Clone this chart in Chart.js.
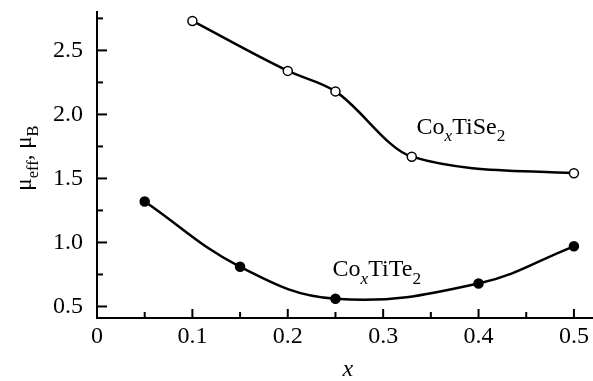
<!DOCTYPE html>
<html>
<head>
<meta charset="utf-8">
<script src="https://cdn.jsdelivr.net/npm/chart.js@4/dist/chart.umd.min.js"></script>
<style>
  html, body { margin: 0; padding: 0; background: #fff; }
  #wrap { width: 593px; height: 381px; }
</style>
</head>
<body>
<div id="wrap"><canvas id="chart"></canvas></div>
<script>
// data
const seX = [0.1, 0.2, 0.25, 0.33, 0.5];
const seY = [2.73, 2.34, 2.18, 1.67, 1.54];
const teX = [0.05, 0.15, 0.25, 0.4, 0.5];
const teY = [1.32, 0.81, 0.56, 0.68, 0.97];

const xTicks = [0, 0.1, 0.2, 0.3, 0.4, 0.5];
const xMinor = [0.05, 0.15, 0.25, 0.35, 0.45];
const yTicks = [0.5, 1.0, 1.5, 2.0, 2.5];
const yMinor = [0.75, 1.25, 1.75, 2.25, 2.75];

const FONT = "'Liberation Serif', 'Times New Roman', serif";

// draw a row of text pieces, some italic and some lowered as subscripts
function richText(ctx, parts, x, y, size) {
  let cx = x;
  parts.forEach(p => {
    const s = p.sub ? size * 0.72 : size;
    ctx.font = (p.italic ? "italic " : "") + s + "px " + FONT;
    ctx.fillText(p.t, cx, y + (p.sub ? size * 0.3 : 0));
    cx += ctx.measureText(p.t).width;
  });
  return cx - x;
}

const extras = {
  id: "extras",
  afterDraw(chart) {
    const ctx = chart.ctx;
    const xs = chart.scales.x, ys = chart.scales.y;
    const a = chart.chartArea;
    ctx.save();
    ctx.strokeStyle = "#000";
    ctx.lineWidth = 2;
    // inward ticks
    const tick = (vals, len) => {
      vals.forEach(v => {
        const px = xs.getPixelForValue(v);
        ctx.beginPath(); ctx.moveTo(px, a.bottom); ctx.lineTo(px, a.bottom - len); ctx.stroke();
      });
    };
    const tickY = (vals, len) => {
      vals.forEach(v => {
        const py = ys.getPixelForValue(v);
        ctx.beginPath(); ctx.moveTo(a.left, py); ctx.lineTo(a.left + len, py); ctx.stroke();
      });
    };
    tick(xTicks.filter(v => v > 0), 9);
    tick(xMinor, 6);
    tickY(yTicks, 10);
    tickY(yMinor, 6);

    ctx.fillStyle = "#000";
    ctx.textBaseline = "alphabetic";
    ctx.textAlign = "left";
    // series labels
    richText(ctx, [{t: "Co"}, {t: "x", italic: true, sub: true}, {t: "TiSe"}, {t: "2", sub: true}],
      xs.getPixelForValue(0.335), ys.getPixelForValue(1.85), 24);
    richText(ctx, [{t: "Co"}, {t: "x", italic: true, sub: true}, {t: "TiTe"}, {t: "2", sub: true}],
      xs.getPixelForValue(0.247), ys.getPixelForValue(0.735), 24);

    // x axis title
    ctx.font = "italic 24px " + FONT;
    ctx.textAlign = "center";
    ctx.fillText("x", xs.getPixelForValue(0.263), 376);

    // y axis title, rotated
    ctx.translate(31, 158);
    ctx.rotate(-Math.PI / 2);
    ctx.textAlign = "left";
    const parts = [{t: "\u03bc"}, {t: "eff", sub: true}, {t: ", \u03bc"}, {t: "B", sub: true}];
    let w = 0;
    parts.forEach(p => {
      ctx.font = (p.sub ? 23 * 0.72 : 23) + "px " + FONT;
      w += ctx.measureText(p.t).width;
    });
    richText(ctx, parts, -w / 2, 0, 23);
    ctx.restore();
  }
};

const lineSet = (xv, yv, fill, mode) => ({
  data: xv.map((x, i) => ({x: x, y: yv[i]})),
  borderColor: "#000",
  borderWidth: 2.5,
  tension: 0.4,
  cubicInterpolationMode: mode,
  pointRadius: 4.5,
  pointBorderWidth: 1.5,
  pointBorderColor: "#000",
  pointBackgroundColor: fill,
  clip: false,
  fill: false
});

new Chart(document.getElementById("chart"), {
  type: "line",
  data: {
    datasets: [lineSet(seX, seY, "#fff", "monotone"), lineSet(teX, teY, "#000", "default")]
  },
  options: {
    responsive: true,
    maintainAspectRatio: false,
    animation: false,
    events: [],
    layout: { autoPadding: false, padding: { top: 12, right: 0, left: 0, bottom: 0 } },
    plugins: { legend: { display: false }, tooltip: { enabled: false } },
    scales: {
      x: {
        type: "linear",
        min: 0,
        max: 0.52,
        afterBuildTicks: s => { s.ticks = xTicks.map(v => ({value: v})); },
        afterFit: s => { s.height = 63; s.paddingLeft = 0; s.paddingRight = 0; },
        grid: { display: false, drawTicks: false },
        border: { display: true, color: "#000", width: 2 },
        ticks: {
          color: "#000",
          padding: 4,
          font: { family: FONT, size: 24 },
          maxRotation: 0,
          callback: v => v === 0 ? "0" : v.toFixed(1)
        }
      },
      y: {
        type: "linear",
        min: 0.41,
        max: 2.8,
        afterBuildTicks: s => { s.ticks = yTicks.map(v => ({value: v})); },
        afterFit: s => { s.width = 97; s.paddingTop = 0; s.paddingBottom = 0; },
        grid: { display: false, drawTicks: false },
        border: { display: true, color: "#000", width: 2 },
        ticks: {
          color: "#000",
          padding: 14,
          font: { family: FONT, size: 24 },
          callback: v => v.toFixed(1)
        }
      }
    }
  },
  plugins: [extras]
});
</script>
</body>
</html>
